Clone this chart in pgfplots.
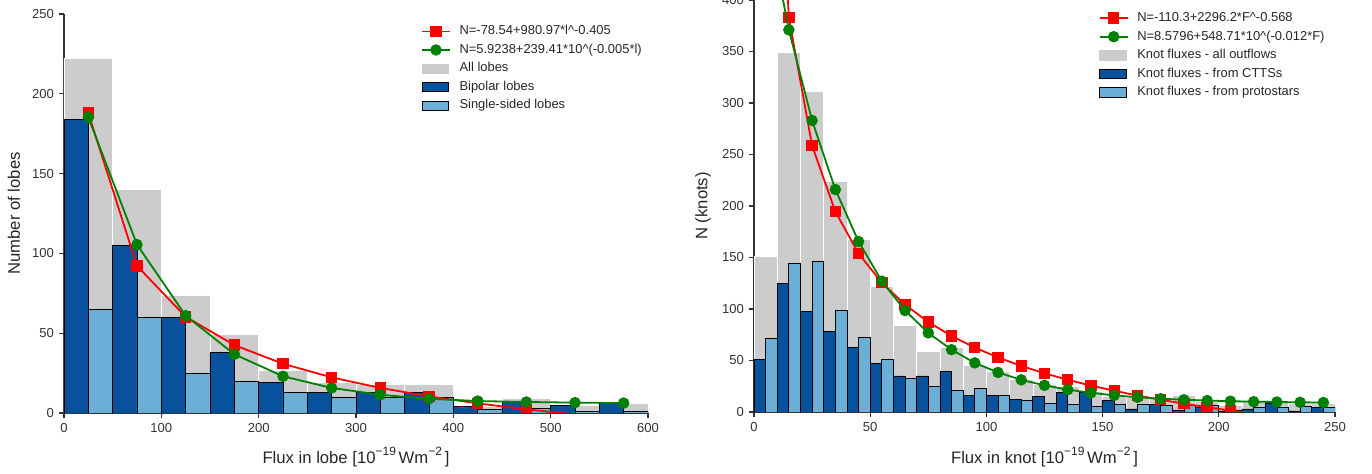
\documentclass[border=0pt]{standalone}
\usepackage{pgfplots}
\pgfplotsset{compat=1.18}
\usepackage{fontspec}
\setmainfont{Liberation Sans}
\definecolor{dblue}{RGB}{8,81,156}
\definecolor{lblue}{RGB}{107,174,214}
\definecolor{lgray}{RGB}{204,204,204}
\definecolor{axgray}{RGB}{51,51,51}
\definecolor{fitgreen}{RGB}{0,128,0}
\newcommand{\sups}[1]{\raisebox{0.5em}{\fontsize{9}{9}\selectfont #1}}
\pgfplotsset{
  mystyle/.style={
    scale only axis,
    axis x line*=bottom, axis y line*=left,
    tick align=outside, major tick length=4pt,
    axis line style={axgray, line width=0.8pt},
    tick style={axgray, line width=0.8pt},
    tick label style={font=\fontsize{9.8}{11}\selectfont, text=axgray},
    label style={font=\fontsize{12.5}{14}\selectfont, text=black!85},
    /pgf/number format/assume math mode=true,
    clip marker paths=true,
    ymin=0, xmin=0,
    legend cell align=left,
    legend style={draw=none, fill=none, anchor=north west, inner sep=0pt,
      column sep=5.5pt, row sep=1.9pt, font=\fontsize{9.7}{11}\selectfont,
      text=black!85, nodes={inner sep=1pt, text height=7.5pt, text depth=2.5pt}},
  },
  graybar/.style={ybar, bar shift=0pt, fill=lgray, draw=white, line width=0.5pt, forget plot},
  dbar/.style={ybar, bar shift=0pt, fill=dblue, draw=black, line width=0.6pt, forget plot},
  lbar/.style={ybar, bar shift=0pt, fill=lblue, draw=black, line width=0.6pt, forget plot},
  redfit/.style={red, line width=1.35pt, mark=square*, mark size=3.6pt, forget plot},
  greenfit/.style={fitgreen, line width=1.35pt, mark=*, mark size=3.6pt, forget plot},
  redleg/.style={red, line width=1.35pt, mark=square*, mark size=3.6pt,
    legend image code/.code={\draw[##1, mark repeat=2, mark phase=2] plot coordinates {(0pt,0pt) (10.5pt,0pt) (21pt,0pt)};}},
  greenleg/.style={fitgreen, line width=1.35pt, mark=*, mark size=3.6pt,
    legend image code/.code={\draw[##1, mark repeat=2, mark phase=2] plot coordinates {(0pt,0pt) (10.5pt,0pt) (21pt,0pt)};}},
  grayleg/.style={legend image code/.code={\fill[lgray] (0pt,-3.5pt) rectangle (20pt,3.5pt);}},
  dleg/.style={legend image code/.code={\filldraw[fill=dblue, draw=black, line width=0.6pt] (0pt,-3.5pt) rectangle (20pt,3.5pt);}},
  lleg/.style={legend image code/.code={\filldraw[fill=lblue, draw=black, line width=0.6pt] (0pt,-3.5pt) rectangle (20pt,3.5pt);}},
}
\begin{document}
\begin{tikzpicture}
% ---------------- left: lobes ----------------
\begin{axis}[mystyle, at={(48pt,45.75pt)}, anchor=south west,
  width=438pt, height=299.25pt,
  xmax=600, ymax=250,
  xtick={0,100,...,600}, ytick={0,50,...,250},
  xlabel={Flux in lobe [10\sups{−19}\,Wm\sups{−2}\,]},
  ylabel={Number of lobes},
  xlabel style={at={(axis description cs:0.5,-0.110)}, anchor=center},
  ylabel style={at={(axis description cs:-0.0856,0.5)}, anchor=center},
  legend style={at={(0.611,0.977)}}]
\addlegendimage{redleg}\addlegendentry{N=-78.54+980.97*l\textasciicircum-0.405}
\addlegendimage{greenleg}\addlegendentry{N=5.9238+239.41*10\textasciicircum(-0.005*l)}
\addlegendimage{grayleg}\addlegendentry{All lobes}
\addlegendimage{dleg}\addlegendentry{Bipolar lobes}
\addlegendimage{lleg}\addlegendentry{Single-sided lobes}
\addplot[graybar, bar width=50] coordinates {(25,222) (75,140) (125,74) (175,49) (225,27) (275,19) (325,18) (375,18) (425,4) (475,9) (525,5) (575,6)};
\addplot[dbar, bar width=25] coordinates {(12.5,184) (62.5,105) (112.5,60) (162.5,38) (212.5,19) (262.5,13) (312.5,13) (362.5,13) (412.5,4) (462.5,7) (512.5,5) (562.5,6)};
\addplot[lbar, bar width=25] coordinates {(37.5,65) (87.5,60) (137.5,25) (187.5,20) (237.5,13) (287.5,10) (337.5,10) (387.5,10) (437.5,2) (487.5,3) (537.5,1) (587.5,1)};
\addplot[redfit] coordinates {(25,187.85) (75,92.17) (125,60.27) (175,42.57) (225,30.85) (275,22.31) (325,15.72) (375,10.42) (425,6.02) (475,2.29) (525,-0.92) (575,-3.72)};
\addplot[greenfit] coordinates {(25,185.3) (75,105.5) (125,61) (175,36.8) (225,23) (275,15.7) (325,11.4) (375,8.9) (425,7.5) (475,6.9) (525,6.5) (575,6.2)};
\end{axis}
% ---------------- right: knots ----------------
\begin{axis}[mystyle, at={(565.5pt,46.5pt)}, anchor=south west,
  width=435.75pt, height=309pt,
  xmax=250, ymax=400,
  xtick={0,50,...,250}, ytick={0,50,...,400},
  xlabel={Flux in knot [10\sups{−19}\,Wm\sups{−2}\,]},
  ylabel={N (knots)},
  xlabel style={at={(axis description cs:0.5,-0.109)}, anchor=center},
  ylabel style={at={(axis description cs:-0.0878,0.5)}, anchor=center},
  legend style={at={(0.593,0.976)}}]
\addlegendimage{redleg}\addlegendentry{N=-110.3+2296.2*F\textasciicircum-0.568}
\addlegendimage{greenleg}\addlegendentry{N=8.5796+548.71*10\textasciicircum(-0.012*F)}
\addlegendimage{grayleg}\addlegendentry{Knot fluxes - all outflows}
\addlegendimage{dleg}\addlegendentry{Knot fluxes - from CTTSs}
\addlegendimage{lleg}\addlegendentry{Knot fluxes - from protostars}
\addplot[graybar, bar width=10] coordinates {(5,151) (15,349) (25,311) (35,224) (45,168) (55,122) (65,84) (75,59) (85,63) (95,45) (105,39) (115,32) (125,27) (135,25) (145,20) (155,15) (165,15) (175,14) (185,16) (195,10) (205,6) (215,11) (225,11) (235,8) (245,8)};
\addplot[dbar, bar width=5] coordinates {(2.5,51) (12.5,125) (22.5,98) (32.5,78) (42.5,63) (52.5,47) (62.5,35) (72.5,35) (82.5,39) (92.5,16) (102.5,16) (112.5,12) (122.5,15) (132.5,19) (142.5,19) (152.5,11) (162.5,3) (172.5,7) (182.5,2) (192.5,4) (202.5,1) (212.5,3) (222.5,8) (232.5,1) (242.5,4)};
\addplot[lbar, bar width=5] coordinates {(7.5,71) (17.5,144) (27.5,146) (37.5,99) (47.5,72) (57.5,51) (67.5,33) (77.5,25) (87.5,21) (97.5,23) (107.5,16) (117.5,11) (127.5,8) (137.5,7) (147.5,5) (157.5,7) (167.5,7) (177.5,6) (187.5,6) (197.5,6) (207.5,2) (217.5,4) (227.5,4) (237.5,5) (247.5,4)};
\addplot[redfit] coordinates {(5,810.2) (15,382.86) (25,258.66) (35,194.47) (45,153.93) (55,125.47) (65,104.13) (75,87.39) (85,73.82) (95,62.55) (105,53.00) (115,44.77) (125,37.60) (135,31.27) (145,25.64) (155,20.59) (165,16.02) (175,11.87) (185,8.07) (195,4.59) (205,1.37) (215,-1.61) (225,-4.38) (235,-6.97) (245,-9.38)};
\addplot[greenfit] coordinates {(5,486.5) (15,371) (25,283) (35,216) (45,165.5) (55,127) (65,98.5) (75,76.8) (85,60.5) (95,47.7) (105,38.4) (115,31.2) (125,25.9) (135,21.7) (145,18.6) (155,16.2) (165,14.3) (175,12.9) (185,11.9) (195,11.1) (205,10.5) (215,10.0) (225,9.7) (235,9.4) (245,9.2)};
\end{axis}
\pgfresetboundingbox
\useasboundingbox (0,0) rectangle (1029pt,355.5pt);
\end{tikzpicture}
\end{document}
